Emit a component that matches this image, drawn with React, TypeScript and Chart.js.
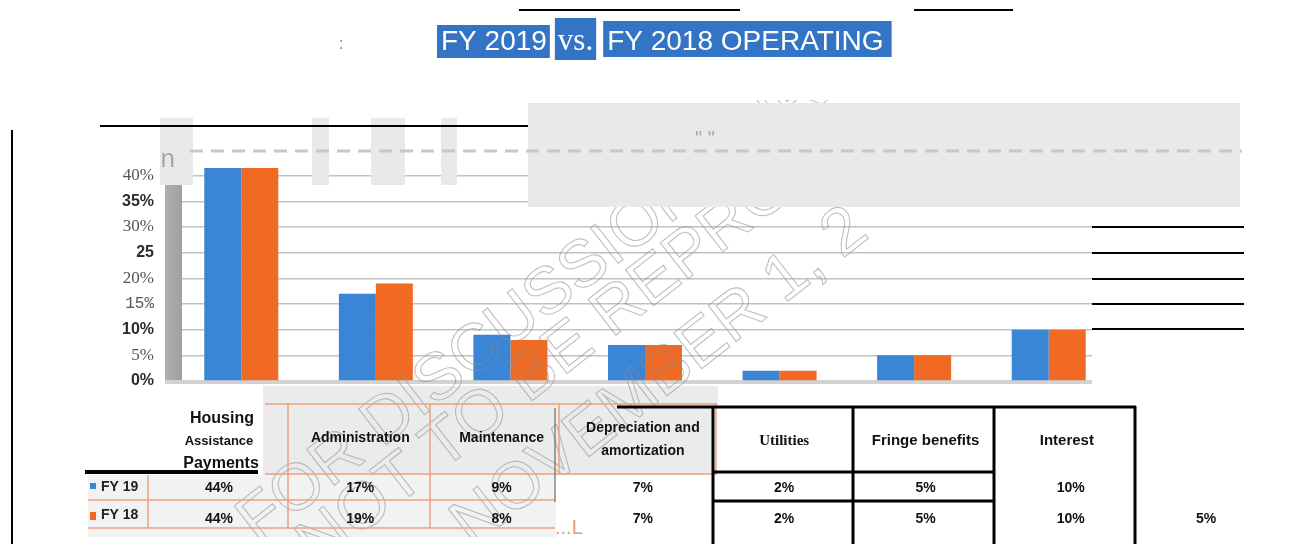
import React, { useEffect, useRef } from "react";
import { Chart, registerables } from "chart.js";

Chart.register(...registerables);

// ---------- data ----------
const categories = [
  "Housing Assistance Payments",
  "Administration",
  "Maintenance",
  "Depreciation and amortization",
  "Utilities",
  "Fringe benefits",
  "Interest",
];
const headerLines = [
  ["Housing", "Assistance", "Payments"],
  ["Administration"],
  ["Maintenance"],
  ["Depreciation and", "amortization"],
  ["Utilities"],
  ["Fringe benefits"],
  ["Interest"],
];
const fy19 = [0.44, 0.17, 0.09, 0.07, 0.02, 0.05, 0.1];
const fy18 = [0.44, 0.19, 0.08, 0.07, 0.02, 0.05, 0.1];
const seriesNames = ["FY 19", "FY 18"];
const tickValues = [0, 0.05, 0.1, 0.15, 0.2, 0.25, 0.3, 0.35, 0.4];
const tickLabels = ["0%", "5%", "10%", "15%", "20%", "25", "30%", "35%", "40%"];
const titleParts = ["FY 2019", "vs.", "FY 2018 OPERATING"];

const BLUE = "#3a85d6";
const ORANGE = "#f06a24";
const TITLE_BG = "#3474c5";
const TABLE_ORANGE = "#e9a27e";

const fmt = (v: number) => Math.round(v * 100) + "%";

const decorPlugin = {
  id: "decor",
  beforeDatasetsDraw(chart: any) {
    const ctx = chart.ctx as CanvasRenderingContext2D;
    const a = chart.chartArea;
    ctx.save();
    const g = ctx.createLinearGradient(a.left - 9, 0, a.left + 8, 0);
    g.addColorStop(0, "#b2adaf");
    g.addColorStop(1, "#a39ea0");
    ctx.fillStyle = g;
    ctx.fillRect(a.left - 9, a.top, 17, a.bottom - a.top + 2);
    ctx.fillStyle = "#d2d2d2";
    ctx.fillRect(a.left - 9, a.bottom - 1, 927, 4);
    ctx.restore();
  },
  afterDraw(chart: any) {
    const ctx = chart.ctx as CanvasRenderingContext2D;
    ctx.save();

    // ---------- table backgrounds ----------
    ctx.fillStyle = "#ebebeb";
    ctx.fillRect(263, 386, 455, 89);
    ctx.fillStyle = "#f2f2f2";
    ctx.fillRect(88, 475, 468, 62);

    // ---------- watermark ----------
    ctx.save();
    ctx.strokeStyle = "rgba(140,140,140,0.55)";
    ctx.lineWidth = 1.1;
    ctx.font = '66px "Liberation Sans"';
    const wm = [
      { t: "FOR DISCUSSION PUR", x: 258, y: 545 },
      { t: "NOT TO BE REPRO", x: 318, y: 568 },
      { t: "NOVEMBER 1, 2", x: 472, y: 548 },
    ];
    for (const w of wm) {
      ctx.save();
      ctx.translate(w.x, w.y);
      ctx.rotate((-38 * Math.PI) / 180);
      ctx.strokeText(w.t, 0, 0);
      ctx.restore();
    }
    ctx.restore();

    // white covers
    ctx.fillStyle = "#ffffff";
    ctx.fillRect(712, 406, 600, 140);
    ctx.fillRect(1092, 207, 220, 200);
    ctx.fillRect(0, 386, 263, 86);
    ctx.fillRect(556, 475, 156, 70);
    ctx.fillRect(0, 537, 712, 10);
    ctx.fillRect(0, 0, 1310, 100);

    // ---------- table lines ----------
    ctx.strokeStyle = TABLE_ORANGE;
    ctx.lineWidth = 1.5;
    const hl = (x1: number, x2: number, y: number) => {
      ctx.beginPath();
      ctx.moveTo(x1, y);
      ctx.lineTo(x2, y);
      ctx.stroke();
    };
    const vl = (x: number, y1: number, y2: number) => {
      ctx.beginPath();
      ctx.moveTo(x, y1);
      ctx.lineTo(x, y2);
      ctx.stroke();
    };
    hl(265, 717, 404);
    hl(265, 717, 474);
    hl(88, 555, 500);
    hl(88, 555, 528);
    vl(148, 475, 528);
    vl(288, 404, 528);
    vl(430, 404, 528);
    vl(559, 404, 474);
    vl(716, 404, 474);
    ctx.strokeStyle = "#555";
    ctx.lineWidth = 1;
    vl(555, 408, 502);

    ctx.strokeStyle = "#000";
    ctx.lineWidth = 3;
    hl(617, 1136, 407);
    hl(712, 994, 472);
    hl(712, 994, 501);
    vl(713, 406, 544);
    vl(853, 406, 544);
    vl(994, 406, 544);
    vl(1135, 406, 544);

    // ---------- table text ----------
    const colX = (i: number) => 219 + i * 141.3;
    ctx.fillStyle = "#111";
    ctx.textAlign = "center";
    ctx.textBaseline = "middle";
    headerLines.forEach((lines, i) => {
      const x = colX(i);
      if (i === 0) {
        ctx.font = 'bold 16px "Liberation Sans"';
        ctx.fillText(lines[0], x + 3, 419);
        ctx.font = 'bold 13px "Liberation Sans"';
        ctx.fillText(lines[1], x, 441);
        ctx.font = 'bold 16px "Liberation Sans"';
        ctx.fillText(lines[2], x + 2, 464);
      } else if (lines.length === 2) {
        ctx.font = 'bold 14px "Liberation Sans"';
        ctx.fillText(lines[0], x, 428);
        ctx.fillText(lines[1], x, 451);
      } else if (i === 4) {
        ctx.font = 'bold 15px "Liberation Serif"';
        ctx.fillText(lines[0], x, 441);
      } else if (i >= 5) {
        ctx.font = 'bold 15px "Liberation Sans"';
        ctx.fillText(lines[0], x, 441);
      } else {
        ctx.font = 'bold 14px "Liberation Sans"';
        ctx.fillText(lines[0], x, 438);
      }
    });
    ctx.font = 'bold 14px "Liberation Sans"';
    fy19.forEach((v, i) => ctx.fillText(fmt(v), colX(i) + (i === 6 ? 4 : 0), 488));
    fy18.forEach((v, i) => ctx.fillText(fmt(v), colX(i) + (i === 6 ? 4 : 0), 519));
    ctx.fillText("5%", 1206, 519);

    // row labels
    ctx.textAlign = "left";
    ctx.font = 'bold 14px "Liberation Sans"';
    ctx.fillStyle = BLUE;
    ctx.fillRect(90, 483, 6, 6);
    ctx.fillStyle = ORANGE;
    ctx.fillRect(90, 512, 6, 8);
    ctx.fillStyle = "#222";
    ctx.fillText(seriesNames[0], 101, 487);
    ctx.fillText(seriesNames[1], 101, 515);
    ctx.fillStyle = "#000";
    ctx.fillRect(85, 470, 173, 4);

    ctx.fillStyle = "#e79a80";
    ctx.font = '20px "Liberation Sans"';
    ctx.fillText("...L", 555, 528);

    // ---------- scan artifacts ----------
    ctx.fillStyle = "#e8e9e9";
    ctx.fillRect(528, 103, 712, 104);
    ctx.fillRect(160, 118, 33, 67);
    ctx.fillRect(312, 118, 17, 67);
    ctx.fillRect(371, 118, 34, 67);
    ctx.fillRect(441, 118, 16, 67);

    ctx.strokeStyle = "#c8c8c8";
    ctx.lineWidth = 3;
    ctx.setLineDash([13, 8]);
    hl(190, 1242, 151);
    ctx.setLineDash([]);
    ctx.fillStyle = "#a8a8a8";
    ctx.font = '26px "Liberation Mono"';
    ctx.fillText("n", 160, 160);
    ctx.font = '20px "Liberation Sans"';
    ctx.fillText("\" \"", 695, 139);

    ctx.strokeStyle = "#000";
    ctx.lineWidth = 2;
    hl(100, 528, 126);
    hl(519, 740, 10);
    hl(914, 1013, 10);
    [227, 253, 279, 304, 329].forEach((y) => hl(1092, 1244, y));
    vl(12, 130, 544);

    // ---------- title ----------
    let x = 437;
    const fonts = ['28px "Liberation Sans"', '31px "Liberation Serif"', '28px "Liberation Sans"'];
    const boxes = [
      { y: 25, h: 33, pl: 4, pr: 3 },
      { y: 18, h: 42, pl: 3, pr: 3 },
      { y: 21, h: 36, pl: 4, pr: 8 },
    ];
    const gaps = [5, 7];
    ctx.textBaseline = "middle";
    ctx.textAlign = "left";
    titleParts.forEach((t, i) => {
      ctx.font = fonts[i];
      const w = ctx.measureText(t).width;
      const b = boxes[i];
      ctx.fillStyle = TITLE_BG;
      ctx.fillRect(x, b.y, w + b.pl + b.pr, b.h);
      ctx.fillStyle = "#ffffff";
      ctx.fillText(t, x + b.pl, 42);
      x += w + b.pl + b.pr + (gaps[i] || 0);
    });
    ctx.fillStyle = "#5b8fd0";
    ctx.font = '16px "Liberation Sans"';
    ctx.fillText(":", 339, 45);

    ctx.restore();
  },
};

export default function App() {
  const ref = useRef<HTMLCanvasElement | null>(null);

  useEffect(() => {
    if (!ref.current) return;
    const chart = new Chart(ref.current, {
      type: "bar",
      data: {
        labels: categories,
        datasets: [
          { label: seriesNames[0], data: fy19, backgroundColor: BLUE, borderWidth: 0, clip: 0 },
          { label: seriesNames[1], data: fy18, backgroundColor: ORANGE, borderWidth: 0, clip: 0 },
        ],
      },
      options: {
        responsive: false,
        animation: false,
        events: [],
        layout: { padding: { left: 0, top: 168, right: 194, bottom: 163 } },
        datasets: { bar: { categoryPercentage: 0.55, barPercentage: 1 } },
        plugins: {
          legend: { display: false },
          title: { display: false },
          tooltip: { enabled: false },
        },
        scales: {
          x: { display: false },
          y: {
            min: 0,
            max: 0.415,
            afterFit: (scale: any) => {
              scale.width = 174;
            },
            afterBuildTicks: (scale: any) => {
              scale.ticks = tickValues.map((v) => ({ value: v }));
            },
            border: { display: false },
            grid: { color: "#c2c2c2", lineWidth: 1.5, drawTicks: false },
            ticks: {
              padding: 20,
              color: (c: any) => ([0, 2, 5, 7].includes(c.index) ? "#2b2b2b" : "#555"),
              font: (c: any) =>
                [0, 2, 5, 7].includes(c.index)
                  ? { family: "Liberation Sans", size: 16, weight: "bold" }
                  : c.index === 3
                  ? { family: "Liberation Mono", size: 16 }
                  : { family: "Liberation Serif", size: 17 },
              callback: (_v: any, i: number) => tickLabels[i],
            },
          },
        },
      },
      plugins: [decorPlugin],
    } as any);
    return () => chart.destroy();
  }, []);

  return (
    <div style={{ position: "fixed", left: 0, top: 0, width: 1310, height: 544, background: "#fff" }}>
      <canvas ref={ref} width={1310} height={544} style={{ display: "block" }} />
    </div>
  );
}
